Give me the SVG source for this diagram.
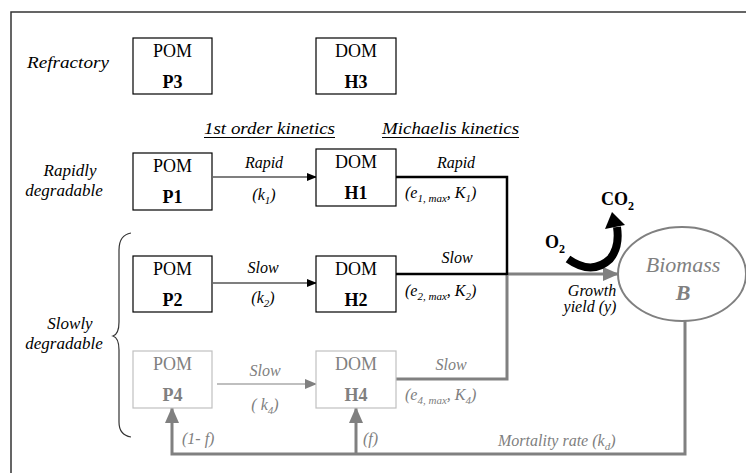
<svg xmlns="http://www.w3.org/2000/svg" width="746" height="473" viewBox="0 0 746 473" font-family="'Liberation Serif', 'Times New Roman', 'DejaVu Serif', serif">
<defs>
<style>
text, tspan {font-family: 'Liberation Serif', 'Times New Roman', 'DejaVu Serif', serif;}
.box{fill:#fff;stroke:#000;stroke-width:1.2;}
.gbox{fill:#fff;stroke:#c0c0c0;stroke-width:1.2;}
.bt{font-size:18px;text-anchor:middle;fill:#000;}
.bb{font-size:18px;font-weight:bold;text-anchor:middle;fill:#000;}
.gt{fill:#808080;}
.it{font-style:italic;font-size:16px;fill:#000;}
.lab{font-style:italic;font-size:17px;fill:#000;}
.mid{text-anchor:middle;}
.g{fill:#808080;}
.blk{stroke:#000;stroke-width:2.5;fill:none;}
.gl{stroke:#808080;stroke-width:3;fill:none;}
.thin{stroke:#333;stroke-width:1.2;fill:none;}
</style>
<marker id="ab" markerWidth="10" markerHeight="10" refX="9" refY="5" orient="auto" markerUnits="userSpaceOnUse"><path d="M0,1 L10,5 L0,9 Z" fill="#000"/></marker>
<marker id="ag" markerWidth="12" markerHeight="12" refX="11" refY="6" orient="auto" markerUnits="userSpaceOnUse"><path d="M0,1 L12,6 L0,11 Z" fill="#808080"/></marker>
<marker id="agl" markerWidth="16" markerHeight="14" refX="15" refY="7" orient="auto" markerUnits="userSpaceOnUse"><path d="M0,0 L16,7 L0,14 Z" fill="#808080"/></marker>
</defs>
<rect width="746" height="473" fill="#fff"/>
<path d="M11,473 L11,12 L746,12" fill="none" stroke="#333" stroke-width="1.5"/>

<g id="side-labels">
<text class="lab" x="27" y="68" textLength="82" lengthAdjust="spacingAndGlyphs">Refractory</text>
<text class="lab mid" x="70" y="176">Rapidly</text>
<text class="lab mid" x="64" y="196">degradable</text>
<text class="lab mid" x="70" y="329">Slowly</text>
<text class="lab mid" x="64" y="349">degradable</text>
<path class="thin" d="M131,233 Q119,235 119,250 L119,322 Q119,334 113,336 Q119,338 119,350 L119,422 Q119,435 131,437"/>
</g>

<g id="headings">
<text class="lab" x="204" y="134" textLength="131" lengthAdjust="spacingAndGlyphs">1st order kinetics</text>
<line x1="204" y1="137.5" x2="335" y2="137.5" stroke="#000" stroke-width="1"/>
<text class="lab" x="382" y="134" textLength="137" lengthAdjust="spacingAndGlyphs">Michaelis kinetics</text>
<line x1="382" y1="137.5" x2="519" y2="137.5" stroke="#000" stroke-width="1"/>
</g>

<g id="connectors">
<line x1="213" y1="177" x2="316" y2="177" stroke="#000" stroke-width="1.2" marker-end="url(#ab)"/>
<line x1="213" y1="283" x2="316" y2="283" stroke="#000" stroke-width="1.2" marker-end="url(#ab)"/>
<line x1="217" y1="384" x2="316" y2="384" stroke="#808080" stroke-width="1.2" marker-end="url(#ag)"/>
<path class="gl" d="M396,379 L507,379 L507,274"/>
<line x1="507" y1="274" x2="618" y2="274" class="gl" marker-end="url(#agl)"/>
<path class="blk" d="M396,177 L507,177 L507,275"/>
<line x1="396" y1="274" x2="507" y2="274" class="blk"/>
<path class="gl" d="M685,321 L685,454 L172,454 L172,408" marker-end="url(#agl)"/>
<line x1="356" y1="454" x2="356" y2="408" class="gl" marker-end="url(#agl)"/>
</g>

<g id="conn-labels">
<text class="it mid" x="264" y="168">Rapid</text>
<text class="it mid" x="264" y="200">(k<tspan font-size="11" dy="4">1</tspan><tspan dy="-4">)</tspan></text>
<text class="it mid" x="263" y="273">Slow</text>
<text class="it mid" x="263" y="303">(k<tspan font-size="11" dy="4">2</tspan><tspan dy="-4">)</tspan></text>
<text class="it mid g" x="265" y="376">Slow</text>
<text class="it mid g" x="265" y="410">( k<tspan font-size="11" dy="4">4</tspan><tspan dy="-4">)</tspan></text>
<text class="it mid" x="456" y="168">Rapid</text>
<text class="it" x="405" y="198">(e<tspan font-size="11" dy="4">1, max</tspan><tspan dy="-4">,  K</tspan><tspan font-size="11" dy="4">1</tspan><tspan dy="-4">)</tspan></text>
<text class="it mid" x="457" y="263">Slow</text>
<text class="it" x="405" y="296">(e<tspan font-size="11" dy="4">2, max</tspan><tspan dy="-4">,  K</tspan><tspan font-size="11" dy="4">2</tspan><tspan dy="-4">)</tspan></text>
<text class="it mid g" x="451" y="370">Slow</text>
<text class="it g" x="405" y="400">(e<tspan font-size="11" dy="4">4, max</tspan><tspan dy="-4">,  K</tspan><tspan font-size="11" dy="4">4</tspan><tspan dy="-4">)</tspan></text>
<text class="it mid" x="592" y="296">Growth</text>
<text class="it mid" x="590" y="312">yield (y)</text>
<text class="it g" x="182" y="444">(1- f)</text>
<text class="it g" x="363" y="444">(f)</text>
<text class="it g" x="498" y="446">Mortality rate (k<tspan font-size="11" dy="4">d</tspan><tspan dy="-4">)</tspan></text>
</g>

<g id="respiration">
<path d="M568,259 Q592,276 610,259 Q620,247 617,227" fill="none" stroke="#000" stroke-width="8"/>
<path d="M605,229 L612,212 L625,225 Z" fill="#000"/>
<text x="545" y="248" font-size="18" font-weight="bold">O<tspan font-size="12" dy="5">2</tspan></text>
<text x="601" y="205" font-size="18" font-weight="bold">CO<tspan font-size="12" dy="5">2</tspan></text>
</g>

<g id="P3"><rect class="box" x="133" y="38" width="79" height="56"/><text class="bt" x="172.5" y="57">POM</text><text class="bb" x="172.5" y="88">P3</text></g>
<g id="H3"><rect class="box" x="316" y="38" width="80" height="56"/><text class="bt" x="356" y="57">DOM</text><text class="bb" x="356" y="88">H3</text></g>
<g id="P1"><rect class="box" x="133" y="153" width="79" height="57"/><text class="bt" x="172.5" y="172">POM</text><text class="bb" x="172.5" y="203">P1</text></g>
<g id="H1"><rect class="box" x="316" y="149" width="80" height="57"/><text class="bt" x="356" y="168">DOM</text><text class="bb" x="356" y="199">H1</text></g>
<g id="P2"><rect class="box" x="133" y="256" width="79" height="56"/><text class="bt" x="172.5" y="275">POM</text><text class="bb" x="172.5" y="306">P2</text></g>
<g id="H2"><rect class="box" x="316" y="256" width="80" height="56"/><text class="bt" x="356" y="275">DOM</text><text class="bb" x="356" y="306">H2</text></g>
<g id="P4"><rect class="gbox" x="133" y="351" width="79" height="57"/><text class="bt gt" x="172.5" y="370">POM</text><text class="bb gt" x="172.5" y="401">P4</text></g>
<g id="H4"><rect class="gbox" x="316" y="351" width="80" height="57"/><text class="bt gt" x="356" y="370">DOM</text><text class="bb gt" x="356" y="401">H4</text></g>
<g id="Biomass"><ellipse cx="682" cy="274" rx="64" ry="47" fill="#fff" stroke="#808080" stroke-width="2"/><text x="683" y="272" font-size="22" font-style="italic" text-anchor="middle" fill="#808080">Biomass</text><text x="683" y="300" font-size="22" font-style="italic" font-weight="bold" text-anchor="middle" fill="#808080">B</text></g>
</svg>
